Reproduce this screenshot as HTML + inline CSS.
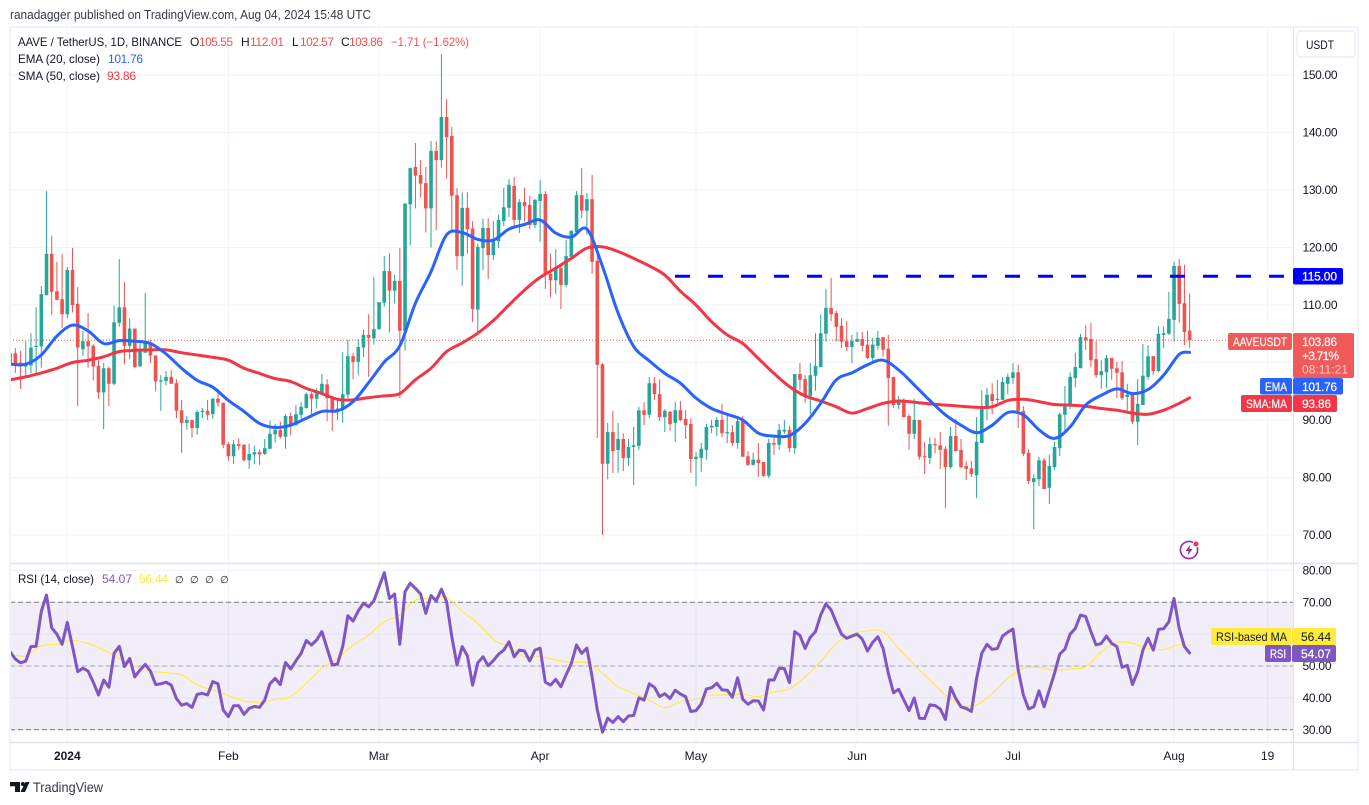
<!DOCTYPE html>
<html lang="en">
<head>
<meta charset="utf-8">
<title>AAVE / TetherUS chart</title>
<style>
html,body{margin:0;padding:0;background:#fff;width:1369px;height:805px;overflow:hidden}
svg{display:block;font-family:"Liberation Sans",sans-serif;font-size:12px}
text{white-space:pre}
</style>
</head>
<body>
<svg id="chart" xmlns="http://www.w3.org/2000/svg" width="1369" height="805" viewBox="0 0 1369 805">
  <defs>
    <clipPath id="main-clip"><rect x="10" y="28" width="1283" height="535"/></clipPath>
    <clipPath id="rsi-clip"><rect x="10" y="564" width="1283" height="178"/></clipPath>
    <clipPath id="ob-clip"><rect x="10" y="564" width="1283" height="38.3"/></clipPath>
    <clipPath id="os-clip"><rect x="10" y="729.7" width="1283" height="12"/></clipPath>
  </defs>
  <rect x="0" y="0" width="1369" height="805" fill="#ffffff"/>
  <text x="10" y="19" fill="#363a45" font-size="12.5" textLength="361" lengthAdjust="spacingAndGlyphs">ranadagger published on TradingView.com, Aug 04, 2024 15:48 UTC</text>
  <g id="grid"></g>
  <rect x="10" y="602.3" width="1283" height="127.4" fill="#7e57c2" fill-opacity="0.1"/>
  <g id="rsi-levels"></g>
  <g id="main-pane" clip-path="url(#main-clip)"></g>
  <g id="rsi-pane" clip-path="url(#rsi-clip)"></g>

  <rect x="10" y="27" width="1348" height="743" fill="none" stroke="#f0f3fa" stroke-width="2"/>
  <line x1="10" x2="1358" y1="563.5" y2="563.5" stroke="#e0e3eb" stroke-width="1.4"/>
  <line x1="10" x2="1358" y1="742.5" y2="742.5" stroke="#e0e3eb" stroke-width="1.4"/>
  <line x1="1293.5" x2="1293.5" y1="27" y2="770" stroke="#e0e3eb" stroke-width="1.2"/>

  <g id="axis-labels" fill="#131722"></g>

  <g>
    <text x="18" y="46" fill="#131722" textLength="164" lengthAdjust="spacingAndGlyphs">AAVE / TetherUS, 1D, BINANCE</text>
    <text x="190" y="46" fill="#131722">O</text>
    <text x="199" y="46" fill="#ef5350" textLength="34">105.55</text>
    <text x="241" y="46" fill="#131722">H</text>
    <text x="250" y="46" fill="#ef5350" textLength="34">112.01</text>
    <text x="292" y="46" fill="#131722">L</text>
    <text x="300" y="46" fill="#ef5350" textLength="34">102.57</text>
    <text x="341" y="46" fill="#131722">C</text>
    <text x="349" y="46" fill="#ef5350" textLength="34">103.86</text>
    <text x="391" y="46" fill="#ef5350" textLength="78" lengthAdjust="spacingAndGlyphs">−1.71 (−1.62%)</text>
    <text x="18" y="63" fill="#131722" textLength="82" lengthAdjust="spacingAndGlyphs">EMA (20, close)</text>
    <text x="108" y="63" fill="#2962ff" textLength="35">101.76</text>
    <text x="18" y="80" fill="#131722" textLength="82" lengthAdjust="spacingAndGlyphs">SMA (50, close)</text>
    <text x="107" y="80" fill="#f23645" textLength="29">93.86</text>
  </g>
  <g>
    <text x="18" y="583" fill="#131722" textLength="76" lengthAdjust="spacingAndGlyphs">RSI (14, close)</text>
    <text x="102" y="583" fill="#7e57c2" textLength="30">54.07</text>
    <text x="139" y="583" fill="#ffeb3b" textLength="29">56.44</text>
    <text x="175" y="583" fill="#131722" font-family="'DejaVu Sans',sans-serif" font-size="10">∅</text>
    <text x="190" y="583" fill="#131722" font-family="'DejaVu Sans',sans-serif" font-size="10">∅</text>
    <text x="205" y="583" fill="#131722" font-family="'DejaVu Sans',sans-serif" font-size="10">∅</text>
    <text x="220" y="583" fill="#131722" font-family="'DejaVu Sans',sans-serif" font-size="10">∅</text>
  </g>

  <g>
    <rect x="1297" y="31" width="58" height="26" rx="4" fill="#ffffff" stroke="#e9ebf1" stroke-width="1.2"/>
    <text x="1306" y="49" fill="#131722" textLength="28" lengthAdjust="spacingAndGlyphs">USDT</text>
  </g>

  <g fill="#ffffff">
    <rect x="1293" y="268" width="50" height="16.5" rx="2" fill="#0000ff"/>
    <text x="1302" y="280.5" textLength="35" stroke="#fff" stroke-width="0.25">115.00</text>

    <rect x="1228" y="333" width="64" height="17" rx="2" fill="#f05a58"/>
    <text x="1233" y="346" textLength="54" lengthAdjust="spacingAndGlyphs" stroke="#fff" stroke-width="0.2">AAVEUSDT</text>
    <rect x="1293" y="333" width="61" height="45" rx="2" fill="#f05a58"/>
    <text x="1302" y="346" textLength="35" stroke="#fff" stroke-width="0.2">103.86</text>
    <text x="1302" y="360" textLength="37" stroke="#fff" stroke-width="0.2">+3.71%</text>
    <text x="1302" y="373.5" textLength="46" fill="#ffffff" fill-opacity="0.7">08:11:21</text>

    <rect x="1260" y="378" width="32" height="16.5" rx="2" fill="#2962ff"/>
    <text x="1265" y="391" textLength="22" lengthAdjust="spacingAndGlyphs" stroke="#fff" stroke-width="0.2">EMA</text>
    <rect x="1293" y="378" width="50" height="16.5" rx="2" fill="#2962ff"/>
    <text x="1302" y="391" textLength="35" stroke="#fff" stroke-width="0.2">101.76</text>

    <rect x="1241" y="395" width="51" height="17" rx="2" fill="#f23645"/>
    <text x="1246" y="408" textLength="41" lengthAdjust="spacingAndGlyphs" stroke="#fff" stroke-width="0.2">SMA:MA</text>
    <rect x="1293" y="395" width="44" height="17" rx="2" fill="#f23645"/>
    <text x="1302" y="408" textLength="29" stroke="#fff" stroke-width="0.2">93.86</text>

    <rect x="1211" y="628" width="80" height="17" rx="2" fill="#ffeb3b"/>
    <text x="1216" y="641" fill="#131722" textLength="71" lengthAdjust="spacingAndGlyphs">RSI-based MA</text>
    <rect x="1292" y="628" width="44" height="17" rx="2" fill="#ffeb3b"/>
    <text x="1301" y="641" fill="#131722" textLength="30">56.44</text>
    <rect x="1265" y="645" width="26" height="17" rx="2" fill="#7e57c2"/>
    <text x="1270" y="658" textLength="16" lengthAdjust="spacingAndGlyphs" stroke="#fff" stroke-width="0.2">RSI</text>
    <rect x="1292" y="645" width="44" height="17" rx="2" fill="#7e57c2"/>
    <text x="1301" y="658" textLength="30" stroke="#fff" stroke-width="0.2">54.07</text>
  </g>

  <g>
    <circle cx="1189" cy="550" r="8.6" fill="#ffffff" stroke="#9c27b0" stroke-width="1.6"/>
    <path d="M1190.5 544.5 L1185.5 551 L1188.6 551 L1187.6 555.5 L1192.6 549 L1189.5 549 Z" fill="#9c27b0"/>
    <circle cx="1196" cy="544" r="3" fill="#f23645" stroke="#ffffff" stroke-width="1"/>
  </g>

  <g>
    <path d="M10 782 H20 V792 H15 V786.2 H10 Z M25.5 782 H29.5 L25 792 H20.5 Z" fill="#131722"/>
    <circle cx="22.8" cy="784" r="2" fill="#131722"/>
    <text x="33" y="792" fill="#363a45" font-size="14" textLength="70" lengthAdjust="spacingAndGlyphs">TradingView</text>
  </g>
</svg>
<script>
const opens = [
99.7,101.6,100.0,99.3,99.5,102.8,102.8,111.7,118.9,112.4,
111.0,108.4,116.1,110.2,102.3,103.7,102.9,99.4,94.8,99.0,
96.3,106.9,109.6,102.9,105.9,99.3,101.7,103.5,101.2,96.8,
96.8,97.5,96.4,91.7,89.5,90.0,88.6,91.5,91.6,91.0,
93.7,93.0,85.8,83.7,85.8,85.7,83.0,84.0,84.4,84.1,
85.0,87.5,88.3,87.1,90.7,89.1,90.9,92.1,94.5,93.7,
94.5,96.2,93.8,91.7,91.7,94.4,101.1,100.1,102.6,104.8,
104.2,105.8,110.4,115.9,112.5,114.2,105.5,127.5,134.0,132.6,
131.2,126.8,136.8,135.2,142.7,139.4,129.1,118.5,126.9,123.3,
109.2,119.9,123.4,118.7,121.1,124.6,126.9,130.7,124.8,127.9,
127.4,123.9,128.1,129.3,115.4,114.3,116.4,113.5,118.4,122.7,
129.1,126.4,128.4,117.7,99.7,82.4,87.9,84.8,86.7,83.4,
85.3,85.5,91.7,90.9,96.4,94.5,90.5,91.4,89.5,91.7,
90.2,89.3,83.2,83.4,84.8,88.7,88.8,90.0,87.7,87.9,
86.0,89.8,83.7,82.2,83.1,82.7,80.3,86.0,85.7,88.0,
88.3,85.1,98.0,97.1,94.2,97.7,99.2,105.0,109.5,108.6,
106.4,103.7,102.7,103.6,104.1,103.1,100.8,102.9,104.4,102.4,
97.5,92.6,93.5,90.7,87.6,90.0,83.7,83.4,85.8,85.6,
85.0,81.8,87.2,84.8,82.0,81.6,80.4,86.0,91.9,94.5,
93.5,93.5,96.3,97.3,98.3,91.6,84.3,79.2,79.7,83.0,
78.2,81.8,85.1,90.9,92.6,97.3,99.0,104.4,104.1,100.6,
97.8,98.3,100.8,99.0,98.3,94.0,94.5,89.7,92.6,97.5,
101.1,98.5,104.8,105.0,107.4,116.8,110.3,105.55];
const highs = [
101.9,102.5,102.0,103.7,105.1,109.6,113.3,129.8,122.1,117.5,
118.9,116.6,119.9,113.1,105.5,108.6,103.2,100.4,99.9,99.3,
109.9,118.0,114.0,107.7,105.9,103.3,112.1,104.0,101.3,97.8,
98.5,98.7,97.1,93.5,90.7,90.0,91.7,92.1,93.5,93.8,
95.4,93.0,86.2,86.5,86.8,85.8,85.9,85.5,84.9,86.7,
89.9,89.3,89.7,91.0,91.3,92.6,93.1,94.8,94.8,95.5,
98.0,97.1,93.8,93.8,101.8,103.9,101.7,104.1,105.7,108.4,
114.9,110.5,118.5,119.0,115.3,119.9,127.8,133.9,138.2,135.2,
134.0,138.5,138.5,153.6,145.8,141.0,130.3,129.6,129.6,124.6,
120.7,125.0,125.1,124.6,125.7,130.4,131.9,132.3,128.4,130.4,
129.0,128.4,131.7,129.8,119.0,119.7,117.0,121.3,123.0,129.8,
133.8,129.5,132.6,120.4,99.9,89.5,91.6,89.5,87.7,86.7,
88.8,92.3,93.1,97.5,97.5,97.1,91.9,91.6,93.1,93.3,
91.7,90.3,84.4,86.0,89.3,90.0,90.5,92.8,91.2,89.1,
90.2,90.7,84.6,84.3,86.0,82.7,86.7,86.9,89.3,90.0,
89.0,98.0,99.9,97.8,99.9,105.1,108.4,112.8,114.7,109.0,
107.7,107.2,104.8,105.3,105.3,105.5,104.3,105.5,104.4,104.8,
97.5,94.2,93.8,91.0,93.7,90.0,86.2,87.0,86.9,87.9,
85.4,88.8,90.2,86.7,82.9,82.9,90.5,95.2,95.6,96.4,
97.0,97.5,98.1,99.9,99.6,92.4,84.9,80.6,83.6,83.4,
83.9,86.2,91.2,95.9,98.3,101.7,105.0,106.5,106.9,103.7,
100.4,101.3,100.8,100.1,100.3,96.3,94.8,97.1,103.2,103.0,
101.1,106.3,106.3,112.3,117.5,118.0,117.0,112.01];
const lows = [
98.6,98.2,95.4,97.5,98.1,98.2,99.1,111.7,108.3,110.8,
106.0,107.7,108.7,92.4,101.2,99.1,96.9,93.7,88.4,92.4,
96.0,106.2,99.7,100.6,99.0,99.3,101.7,99.9,95.0,91.6,
96.0,96.3,90.3,84.3,88.3,86.9,87.4,90.3,90.0,90.2,
92.3,85.1,82.9,82.4,84.8,82.8,81.5,82.3,82.2,83.9,
84.9,86.1,86.8,85.0,87.3,89.1,90.2,92.0,91.0,92.0,
94.5,89.8,88.1,90.0,89.5,93.8,97.1,97.8,101.0,97.5,
103.1,105.7,109.7,105.2,110.3,93.8,102.1,120.4,126.8,128.7,
122.6,120.0,123.0,133.9,132.0,122.8,116.1,113.3,118.9,107.0,
105.0,116.1,114.5,117.8,119.9,123.7,125.3,123.8,122.5,124.5,
123.2,123.4,121.0,112.8,111.4,111.9,109.3,113.1,118.4,122.5,
125.1,122.2,115.4,86.9,70.0,79.7,80.8,80.8,81.1,82.0,
78.7,84.8,89.1,90.3,93.5,89.8,87.9,88.1,86.2,89.8,
86.7,80.8,78.5,81.0,83.1,87.7,87.2,87.0,86.0,85.5,
85.0,83.6,82.0,82.1,80.1,80.1,79.9,83.9,84.8,87.6,
84.4,84.1,95.2,93.0,91.0,95.1,99.2,103.6,107.2,103.7,
102.5,102.0,99.9,103.6,102.0,100.6,99.9,102.2,101.0,89.0,
92.1,91.9,90.4,84.8,86.7,83.1,80.6,82.3,84.2,81.5,
74.7,81.5,84.6,81.6,79.6,80.1,76.4,86.0,90.0,91.0,
93.0,93.5,94.5,96.3,88.6,83.7,78.9,71.0,78.5,78.0,
75.4,81.3,83.7,87.9,91.9,95.7,99.0,102.2,99.2,97.3,
95.4,95.6,97.0,93.8,93.5,91.6,89.3,85.6,92.6,97.0,
97.8,98.3,102.5,104.8,103.6,106.9,103.0,102.57];
const closes = [
101.6,99.7,99.3,99.6,102.6,102.9,111.9,118.9,112.3,110.9,
108.4,116.1,110.0,102.6,103.7,102.8,99.3,94.8,99.0,96.3,
107.0,109.6,102.9,105.9,99.2,101.9,103.5,101.2,96.7,96.9,
97.5,96.3,91.6,89.5,90.0,88.6,91.4,91.6,90.9,93.7,
93.0,85.7,83.7,85.8,85.5,83.0,84.1,84.4,84.0,85.1,
87.6,88.3,87.1,90.7,89.1,91.0,92.3,94.5,93.7,94.6,
96.3,93.8,91.4,92.0,94.5,101.1,100.1,102.7,104.8,104.3,
105.8,110.5,115.9,112.5,114.2,105.5,127.6,133.8,132.5,131.1,
126.8,136.8,135.2,142.7,139.2,129.0,118.5,126.9,123.2,109.3,
120.1,123.4,118.7,121.3,124.8,127.0,130.9,124.8,127.9,127.2,
123.9,128.3,129.3,115.2,114.3,116.4,113.5,118.5,122.9,129.1,
126.4,128.4,117.5,99.6,82.4,87.9,84.6,86.7,83.4,85.3,
85.6,91.7,90.9,96.4,94.5,90.5,91.6,89.3,91.7,90.0,
89.1,83.2,83.6,85.0,88.8,89.0,90.0,87.7,87.9,86.0,
89.8,83.6,82.2,83.1,82.5,80.3,86.0,85.7,88.3,88.3,
85.1,98.0,97.0,94.0,97.8,99.4,105.1,109.5,108.4,106.2,
103.6,102.7,103.7,104.1,102.9,100.8,103.1,104.3,102.2,97.3,
92.6,93.5,90.5,87.6,90.0,83.6,83.6,85.8,85.6,84.8,
81.8,87.2,84.6,81.8,81.5,80.6,86.2,92.1,94.4,93.3,
93.7,96.6,97.5,98.3,91.6,84.1,79.4,79.9,83.0,78.0,
82.0,85.3,91.0,92.8,97.5,99.2,104.4,103.9,100.4,97.8,
98.5,100.8,98.9,98.2,93.8,94.4,89.7,92.8,97.7,101.1,
98.5,105.0,105.1,107.6,116.8,110.2,105.3,103.86];

/* moving averages: one reading every third candle, plus the last candle */
const emaSampleStep = 3;
const emaValues = [
99.7,99.7,101.3,104.6,106.5,105.5,103.3,103.8,103.7,103.3,
101.5,99.0,96.9,95.7,93.4,91.5,89.4,88.7,89.1,90.3,
91.5,91.6,93.2,96.5,100.1,102.9,110.3,115.8,122.2,122.6,
121.4,121.3,123.2,124.0,124.8,122.5,121.8,123.2,116.7,108.6,
102.8,100.3,98.1,96.4,93.8,92.0,91.0,90.0,87.7,87.2,
87.3,89.4,92.9,97.0,98.2,99.6,100.4,98.7,96.1,93.4,
90.9,89.1,87.8,89.1,91.3,90.9,88.3,86.8,88.8,92.6,
94.3,95.4,94.6,95.3,97.8,101.4];
const smaValues = [
97.0,97.5,98.2,99.0,100.0,100.4,101.0,101.9,102.1,102.2,
102.2,101.7,101.3,100.9,100.4,99.0,98.1,97.2,96.7,95.5,
94.6,93.6,93.5,93.9,94.2,94.6,97.0,99.0,101.9,103.4,
105.1,107.3,110.0,112.6,114.8,116.4,118.1,119.9,120.1,119.3,
118.1,116.8,115.2,112.4,110.0,107.1,104.8,103.3,100.7,98.1,
95.8,94.2,93.3,92.3,91.2,92.0,92.9,93.3,93.1,92.8,
92.6,92.4,92.2,92.3,93.4,93.6,93.2,92.7,92.6,92.4,
92.0,91.7,91.2,91.0,91.7,92.9];
const emaLast = 101.76;
const smaLast = 93.86;
const lastClose = 103.86;
const resistanceLevel = 115;

const rsiValues = [
54.5,52.2,51.0,51.5,56.1,56.2,67.1,72.3,62.0,60.0,
56.8,63.7,56.1,48.2,49.3,48.4,44.9,40.9,45.6,43.3,
54.0,56.2,49.8,52.4,46.6,48.7,50.5,48.4,44.2,44.4,
44.9,44.0,39.8,37.7,38.2,37.0,41.1,41.4,40.9,45.1,
44.4,36.2,34.1,37.5,37.5,34.8,36.7,37.3,37.0,39.3,
44.4,46.1,44.2,51.1,49.1,51.6,54.0,58.0,56.6,58.2,
60.8,55.5,50.3,50.6,56.1,65.8,64.1,67.3,69.7,68.6,
70.5,74.9,79.3,71.2,72.6,56.8,73.3,76.0,74.4,72.6,
66.5,72.1,70.4,74.1,70.2,59.2,50.3,56.1,53.2,44.0,
51.0,52.9,50.1,51.7,53.7,55.0,57.6,52.9,55.0,54.7,
51.6,55.0,55.6,44.9,44.0,45.8,43.5,47.2,50.8,56.6,
54.0,55.6,46.6,36.2,29.2,33.6,32.3,34.1,32.5,34.3,
34.5,40.0,39.3,44.4,43.3,40.4,41.3,39.8,42.4,41.2,
40.4,35.7,36.0,38.1,42.8,43.2,44.6,42.5,42.4,40.2,
46.3,39.5,38.0,39.1,39.0,36.2,45.6,45.6,49.3,49.2,
44.8,60.8,59.6,55.5,59.0,60.8,66.0,69.5,67.6,63.7,
60.0,58.7,59.4,60.0,58.4,54.7,57.4,59.2,55.5,47.7,
41.6,42.7,39.3,36.0,40.0,33.6,33.5,37.8,37.6,36.5,
33.2,43.3,39.8,37.2,36.7,35.7,46.1,54.0,56.8,55.2,
55.5,59.4,60.6,61.6,48.7,40.9,36.5,37.2,42.2,37.2,
42.5,47.7,53.7,55.3,60.0,61.8,66.0,65.5,60.8,56.6,
57.1,59.4,57.1,56.1,49.6,50.2,44.2,48.2,55.0,58.7,
55.0,61.5,61.7,63.9,71.2,61.8,56.1,54.07];
const rsiMaValues = [
53.7,53.2,56.3,56.8,58.0,57.1,55.0,52.4,50.0,48.4,
47.9,47.2,44.0,42.5,40.7,39.0,38.6,39.5,40.4,44.6,
49.3,52.4,56.6,59.7,63.9,66.0,70.7,71.2,71.6,67.1,
63.4,58.4,55.9,52.9,53.0,51.9,51.1,51.0,47.7,43.5,
41.4,39.3,36.9,38.8,39.5,40.9,40.9,41.1,40.4,41.9,
42.8,46.6,51.4,57.1,60.0,61.0,60.8,55.5,50.3,45.6,
40.9,37.8,37.8,41.4,46.1,49.3,49.5,48.7,49.1,49.8,
54.5,57.4,57.1,55.5,55.2,56.7];
const rsiMaLast = 56.44;

const priceTicks = [70,80,90,100,110,120,130,140,150];
const priceTickLabels = ['70.00','80.00','90.00','100.00','110.00','120.00','130.00','140.00','150.00'];
const rsiTicks = [30,40,50,60,70,80];
const rsiTickLabels = ['30.00','40.00','50.00','60.00','70.00','80.00'];
const rsiLevels = [30,50,70];
const timeDays = [0,31,60,91,121,152,182,213,231];
const timeLabels = ['2024','Feb','Mar','Apr','May','Jun','Jul','Aug','19'];

const NS = 'http://www.w3.org/2000/svg';
const candleDayOffset = -11;
function xDay(d){ return 67.3 + 5.196 * d; }
function xBar(i){ return xDay(i + candleDayOffset); }
function yPrice(p){ return 535 - (p - 70) * 5.75; }
function yRsi(r){ return 729.7 - (r - 30) * 3.185; }
function mk(tag, parent, attrs){
  const el = document.createElementNS(NS, tag);
  for (const k in attrs) el.setAttribute(k, attrs[k]);
  parent.appendChild(el);
  return el;
}
/* smooth curve through the sampled readings (Catmull-Rom to cubic Bezier) */
function sampledPath(vals, step, last, yFn){
  const pts = vals.map((v, k) => [xBar(k * step), yFn(v)]);
  pts.push([xBar(opens.length - 1), yFn(last)]);
  let d = 'M' + pts[0][0].toFixed(1) + ' ' + pts[0][1].toFixed(1);
  for (let i = 0; i < pts.length - 1; i++) {
    const p0 = pts[Math.max(i - 1, 0)], p1 = pts[i], p2 = pts[i + 1], p3 = pts[Math.min(i + 2, pts.length - 1)];
    const c1x = p1[0] + (p2[0] - p0[0]) / 6, c1y = p1[1] + (p2[1] - p0[1]) / 6;
    const c2x = p2[0] - (p3[0] - p1[0]) / 6, c2y = p2[1] - (p3[1] - p1[1]) / 6;
    d += ' C' + c1x.toFixed(1) + ' ' + c1y.toFixed(1) + ' ' + c2x.toFixed(1) + ' ' + c2y.toFixed(1) + ' ' + p2[0].toFixed(1) + ' ' + p2[1].toFixed(1);
  }
  return d;
}

const gridG = document.getElementById('grid');
priceTicks.forEach(function(t){
  const l = mk('line', gridG, {x1:10, x2:1293, y1:yPrice(t), y2:yPrice(t), stroke:'#f0f3fa', 'stroke-width':1});
  
  
});
rsiTicks.forEach(function(t){
  const l = mk('line', gridG, {x1:10, x2:1293, y1:yRsi(t), y2:yRsi(t), stroke:'#f0f3fa', 'stroke-width':1});
  
  
});
timeDays.forEach(function(d){
  const l = mk('line', gridG, {x1:xDay(d), x2:xDay(d), y1:27, y2:742, stroke:'#f0f3fa', 'stroke-width':1});
  
  
});

const levelsG = document.getElementById('rsi-levels');
rsiLevels.forEach(function(v){
  const l = mk('line', levelsG, {x1:10, x2:1293, y1:yRsi(v), y2:yRsi(v), stroke:'#787b86', 'stroke-width':1, 'stroke-dasharray':'5 3', 'stroke-opacity': v === 50 ? 0.6 : 1});
  
  
});

const main = document.getElementById('main-pane');
const priceLine = mk('line', main, {x1:10, x2:1228, y1:yPrice(lastClose), y2:yPrice(lastClose), stroke:'#ef5350', 'stroke-width':1, 'stroke-dasharray':'1 2'});



const barCount = opens.length;
for (let i = 0; i < barCount; i++) {
  const up = closes[i] >= opens[i];
  const col = up ? '#26a69a' : '#ef5350';
  const x = xBar(i);
  const g = mk('g', main, {});
  
  
  mk('line', g, {x1:x, x2:x, y1:yPrice(highs[i]), y2:yPrice(lows[i]), stroke:col, 'stroke-width':1});
  const top = yPrice(Math.max(opens[i], closes[i]));
  const bot = yPrice(Math.min(opens[i], closes[i]));
  mk('rect', g, {x:x - 1.8, y:top, width:3.6, height:Math.max(bot - top, 1.2), fill:col});
}

const level = mk('line', main, {x1:675, x2:1293, y1:yPrice(resistanceLevel), y2:yPrice(resistanceLevel), stroke:'#0000ff', 'stroke-width':3, 'stroke-dasharray':'15 18'});



const smaLine = mk('path', main, {d:sampledPath(smaValues, emaSampleStep, smaLast, yPrice), fill:'none', stroke:'#f23645', 'stroke-width':3, 'stroke-linejoin':'round', 'stroke-linecap':'round'});


const emaLine = mk('path', main, {d:sampledPath(emaValues, emaSampleStep, emaLast, yPrice), fill:'none', stroke:'#2962ff', 'stroke-width':3, 'stroke-linejoin':'round', 'stroke-linecap':'round'});



const rsiG = document.getElementById('rsi-pane');
const rsiPts = rsiValues.map((v, i) => xBar(i).toFixed(1) + ' ' + yRsi(v).toFixed(1));
const rsiD = 'M' + rsiPts.join(' L');
const areaD = rsiD + ' L' + xBar(rsiValues.length - 1).toFixed(1) + ' ' + yRsi(50) + ' L' + xBar(0).toFixed(1) + ' ' + yRsi(50) + ' Z';
const obFill = mk('path', rsiG, {d:areaD, fill:'#4caf50', 'fill-opacity':0.07, 'clip-path':'url(#ob-clip)'});


const rsiMaLine = mk('path', rsiG, {d:sampledPath(rsiMaValues, emaSampleStep, rsiMaLast, yRsi), fill:'none', stroke:'#ffeb3b', 'stroke-width':1.1, 'stroke-linejoin':'round'});


const rsiLine = mk('path', rsiG, {d:rsiD, fill:'none', stroke:'#7e57c2', 'stroke-width':3, 'stroke-linejoin':'round', 'stroke-linecap':'round'});



const axisG = document.getElementById('axis-labels');
priceTicks.forEach(function(t, k){
  const s = mk('text', axisG, {x:1302.5, y:yPrice(t) + 4.2, textLength: priceTickLabels[k].length > 5 ? 35 : 29});
  s.textContent = priceTickLabels[k];
  
  
});
rsiTicks.forEach(function(t, k){
  const s = mk('text', axisG, {x:1302.5, y:yRsi(t) + 4.2, textLength:29});
  s.textContent = rsiTickLabels[k];
  
  
});
timeDays.forEach(function(d, k){
  const s = mk('text', axisG, {x:xDay(d), y:760, 'text-anchor':'middle', 'font-weight': timeLabels[k] === '2024' ? 'bold' : 'normal'});
  s.textContent = timeLabels[k];
  
  
});
</script>
</body>
</html>
